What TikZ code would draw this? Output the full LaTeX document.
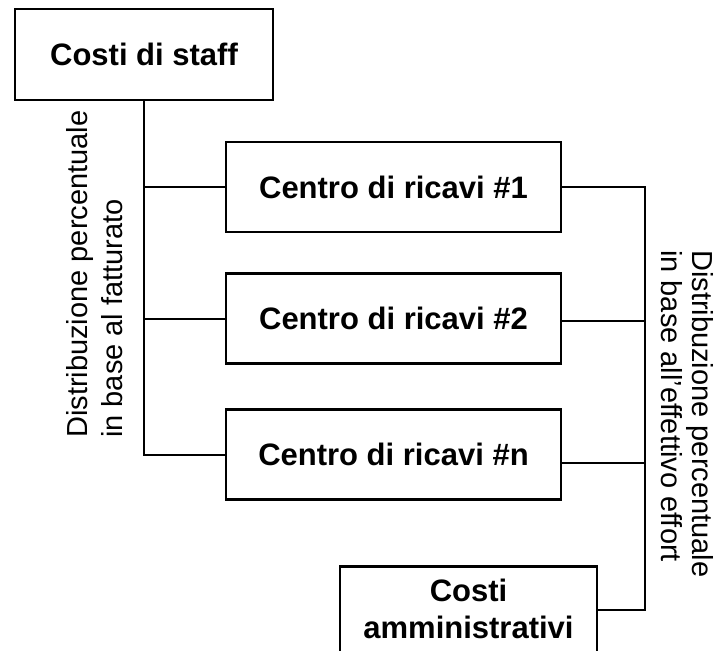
\documentclass[tikz,border=0pt]{standalone}
\usepackage{fontspec}
\setmainfont{Liberation Sans}
\usetikzlibrary{calc}
\begin{document}
\begin{tikzpicture}[x=1pt,y=-1pt,
  box/.style={draw=black, line width=2.5pt, fill=white, inner sep=0pt, align=center,
    font=\fontsize{31}{37}\selectfont\bfseries},
  conn/.style={draw=black, line width=2pt},
  lbl/.style={inner sep=0pt, align=left}]
\useasboundingbox (0,0) rectangle (718,651);
\clip (0,0) rectangle (718,651);
\fill[white] (0,0) rectangle (718,651);
% boxes
\node[box, minimum width=258pt, minimum height=91pt] (staff) at (144,54.5) {Costi di staff};
\node[box, minimum width=335pt, minimum height=90pt] (c1) at (393.5,187) {Centro di ricavi \#1};
\node[box, minimum width=335pt, minimum height=90pt] (c2) at (393.5,318.5) {Centro di ricavi \#2};
\node[box, minimum width=335pt, minimum height=90pt] (cn) at (393.5,454.5) {Centro di ricavi \#n};
\node[box, minimum width=257pt, anchor=north, inner ysep=13pt, text depth=40pt] (amm) at (468.5,565) {Costi\\amministrativi};
% labels
\node[lbl, rotate=90, anchor=north west, font=\fontsize{29}{35}\selectfont] (ll) at (66,438)
  {Distribuzione percentuale\\in base al fatturato};
\node[lbl, rotate=-90, anchor=north west, font=\fontsize{29}{31}\selectfont] (rl) at (714,250)
  {Distribuzione percentuale\\in base all’effettivo effort};
% connectors
\coordinate (rx) at (645,0);
\coordinate (ae) at ($(amm.north east)+(0,45)$);
\coordinate (ne) at ([yshift=-8pt]cn.east);
\draw[conn] (staff.south) |- (cn.west);
\draw[conn] (staff.south |- c1.west) -- (c1.west);
\draw[conn] (staff.south |- c2.west) -- (c2.west);
\draw[conn] (c1.east) -- (c1.east -| rx) -- (rx |- ae) -- (ae);
\draw[conn] ([yshift=-2pt]c2.east) -- ([yshift=-2pt]c2.east -| rx);
\draw[conn] (ne) -- (ne -| rx);
\end{tikzpicture}
\end{document}
